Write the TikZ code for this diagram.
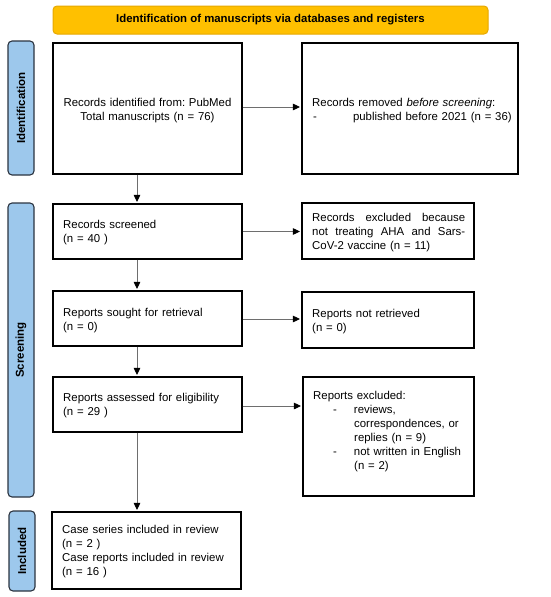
\documentclass[tikz,border=0pt]{standalone}
\usepackage{fontspec}
\setmainfont{Liberation Sans}
\usetikzlibrary{arrows.meta,calc}
\definecolor{bannerfill}{HTML}{FFC000}
\definecolor{bannerdraw}{HTML}{E6A800}
\definecolor{phasefill}{HTML}{9DC8EC}
\definecolor{phasedraw}{HTML}{2B3440}
\definecolor{linegray}{HTML}{6E6E6E}
\frenchspacing
\begin{document}
\begin{tikzpicture}[x=1pt,y=-1pt,
  box/.style={draw=black, line width=1.1pt, inner sep=0pt, minimum width=189pt},
  phase/.style={draw=phasedraw, fill=phasefill, line width=1.1pt, rounded corners=4pt, inner sep=0pt, minimum width=26pt},
  phasetext/.style={rotate=90, font=\fontsize{11.5}{14}\selectfont\bfseries, inner sep=0pt},
  txt/.style={inner sep=0pt, anchor=base west, text width=210pt, align=left, font=\fontsize{11.4}{14}\selectfont\frenchspacing},
  flow/.style={draw=linegray, line width=0.9pt, -{Triangle[length=7pt,width=6.5pt,color=black]}, shorten >=1.5pt}
]
\useasboundingbox (0,0) rectangle (550,597);

% banner
\node[draw=bannerdraw, fill=bannerfill, line width=1pt, rounded corners=4pt, minimum width=435pt, minimum height=28pt, inner sep=0pt,
  font=\fontsize{11.4}{14}\selectfont\bfseries] (banner) at (270.5,20) {Identification of manuscripts via databases and registers};

% phase labels
\node[phase, minimum height=134pt] (p1) at (21,108) {};
\node[phasetext] (p1t) at (p1.center) {Identification};
\node[phase, minimum height=294pt] (p2) at (21,350) {};
\node[phasetext] (p2t) at (p2.center) {Screening};
\node[phase, minimum height=80pt] (p3) at (22,551) {};
\node[phasetext] (p3t) at (p3.center) {Included};

% boxes
\node[box, minimum height=131pt] (b1) at (147.5,108.5) {};
\node[box, minimum width=216pt, minimum height=131pt] (r1) at (410,108.5) {};
\node[box, minimum height=55pt] (b2) at (147.5,231.5) {};
\node[box, minimum width=172pt, minimum height=56pt] (r2) at (388,231) {};
\node[box, minimum height=55pt] (b3) at (147.5,318.5) {};
\node[box, minimum width=172pt, minimum height=56pt] (r3) at (388,320) {};
\node[box, minimum height=55pt] (b4) at (147.5,404.5) {};
\node[box, minimum width=171pt, minimum height=119pt] (r4) at (388.5,436.5) {};
\node[box, minimum height=77pt] (b5) at (146.5,550.5) {};

% texts
\node[txt, anchor=base, align=center, text width=185pt] (t1) at (147.5,106) {Records identified from: PubMed\\Total manuscripts (n = 76)};
\node[txt] (tr1) at (312,106) {Records removed \textit{before screening}:\\\hspace*{1pt}-\hspace*{36pt}published before 2021 (n = 36)};
\node[txt] (t2) at (63,228.5) {Records screened\\(n = 40 )};
\node[txt, text width=153pt] (tr2) at (312,221) {\makebox[153pt]{Records\hfill excluded\hfill because}\\\makebox[153pt]{not\hfill treating\hfill AHA\hfill and\hfill Sars-}\\CoV-2 vaccine (n = 11)};
\node[txt] (t3) at (63,316) {Reports sought for retrieval\\(n = 0)};
\node[txt] (tr3) at (312,317) {Reports not retrieved\\(n = 0)};
\node[txt] (t4) at (63,401) {Reports assessed for eligibility\\(n = 29 )};
\node[txt] (tr4) at (313,399) {Reports excluded:\\
  \hspace*{20pt}-\hspace*{17pt}reviews,\\
  \hspace*{41pt}correspondences, or\\
  \hspace*{41pt}replies (n = 9)\\
  \hspace*{20pt}-\hspace*{17pt}not written in English\\
  \hspace*{41pt}(n = 2)};
\node[txt] (t5) at (62,533) {Case series included in review\\(n = 2 )\\Case reports included in review\\(n = 16 )};

% connectors
\coordinate (ax) at (137,0);
\draw[flow] (b1.east |- 0,107) -- (r1.west |- 0,107);
\draw[flow] (b2.east) -- (b2.east -| r2.west);
\draw[flow] (b3.east |- 0,319) -- (r3.west |- 0,319);
\draw[flow] (b4.east |- 0,406) -- (r4.west |- 0,406);
\draw[flow] (b1.south -| ax) -- (b2.north -| ax);
\draw[flow] (b2.south -| ax) -- (b3.north -| ax);
\draw[flow] (b3.south -| ax) -- (b4.north -| ax);
\draw[flow] (b4.south -| ax) -- (b5.north -| ax);
\end{tikzpicture}
\end{document}
